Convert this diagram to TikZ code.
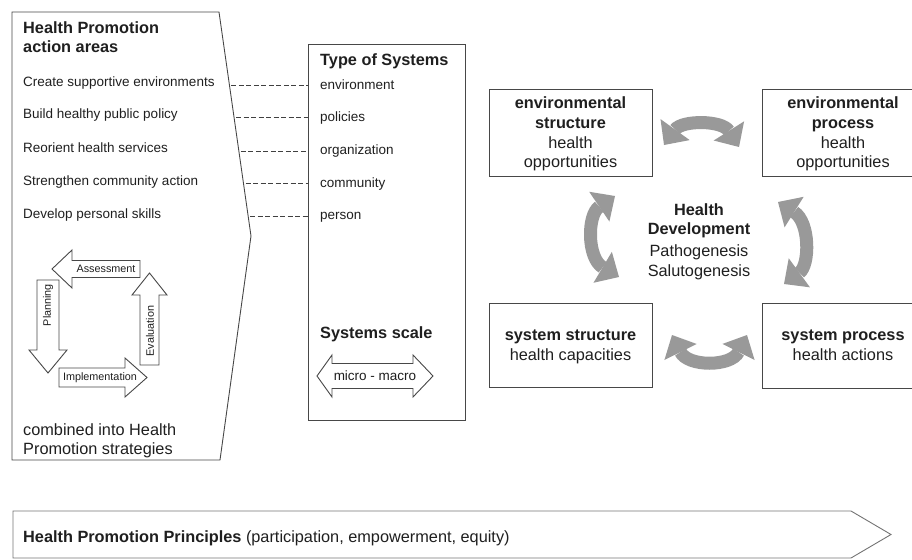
\documentclass[tikz,border=0pt]{standalone}
\usepackage{fontspec}
\setmainfont{Liberation Sans}
\usetikzlibrary{arrows.meta,calc}
\begin{document}
\begin{tikzpicture}[x=1pt,y=-1pt,
  outline/.style={draw=black!72, line width=0.9pt, line join=miter},
  box/.style={outline, inner sep=0pt, outer sep=0pt},
  dashline/.style={draw=black!75, line width=0.8pt, dash pattern=on 5pt off 2.5pt},
  blk/.style={outline, fill=white},
  item/.style={font=\fontsize{13.5}{16}\selectfont, text=black!88, inner sep=0pt},
  head/.style={font=\bfseries\fontsize{16.3}{19.5}\selectfont, text=black!88, inner sep=0pt},
  big/.style={font=\fontsize{16.3}{19.5}\selectfont, text=black!88, inner sep=0pt},
  small/.style={font=\fontsize{10.8}{12}\selectfont, text=black!88, inner sep=0pt},
  grayarrow/.style={draw=black!40, line width=13pt,
    {Triangle[width=36pt,length=19pt,line width=0pt]}-{Triangle[width=36pt,length=19pt,line width=0pt]}},
]
\useasboundingbox (0,0) rectangle (912,559);
\clip (0,0) rectangle (912,559);

% ---------- left panel ----------
\coordinate (tl) at (12,12);
\coordinate (tr) at (219,12);
\coordinate (apex) at (251,236);
\coordinate (br) at (220,460);
\coordinate (bl) at (12,460);
\draw[outline] (tl) -- (tr) -- (apex) -- (br) -- (bl) -- cycle;

\node[head, anchor=base west] (h1) at (23,33.3) {Health Promotion};
\node[head, anchor=base west] (h2) at (23,52.8) {action areas};

\node[item, anchor=base west] (l1) at (23,86.5) {Create supportive environments};
\node[item, anchor=base west] (l2) at (23,119) {Build healthy public policy};
\node[item, anchor=base west] (l3) at (23,152.5) {Reorient health services};
\node[item, anchor=base west] (l4) at (23,185) {Strengthen community action};
\node[item, anchor=base west] (l5) at (23,218.5) {Develop personal skills};

% cycle arrows
\draw[blk] (52,269) -- (72,250) -- (72,260.5) -- (140,260.5) -- (140,277.5) -- (72,277.5) -- (72,288) -- cycle;
\node[small] (assess) at (106,269) {Assessment};
\draw[blk] (37,280) -- (59,280) -- (59,350) -- (67,350) -- (48,373) -- (29,350) -- (37,350) -- cycle;
\node[small, rotate=90] (plan) at (48,305) {Planning};
\draw[blk] (59,368) -- (125,368) -- (125,358) -- (147,377.5) -- (125,397) -- (125,387) -- (59,387) -- cycle;
\node[small] (impl) at (100,377.5) {Implementation};
\draw[blk] (140,365) -- (140,295) -- (132,295) -- (149.5,273) -- (167,295) -- (159,295) -- (159,365) -- cycle;
\node[small, rotate=90] (eval) at (150,331) {Evaluation};

\node[big, anchor=base west] (c1) at (23,435) {combined into Health};
\node[big, anchor=base west] (c2) at (23,454.3) {Promotion strategies};

% ---------- middle box ----------
\node[box, minimum width=157pt, minimum height=376pt] (mbox) at (386.5,232) {};
\node[head, anchor=base west] (tos) at (320,66) {Type of Systems};
\node[item, anchor=mid west] (t1) at (320,86.5) {environment};
\node[item, anchor=mid west] (t2) at (320,119) {policies};
\node[item, anchor=mid west] (t3) at (320,152) {organization};
\node[item, anchor=mid west] (t4) at (320,184.5) {community};
\node[item, anchor=mid west] (t5) at (320,217) {person};
\node[head, anchor=base west] (sscale) at (320,338) {Systems scale};
\draw[blk] (317,376) -- (332,355) -- (332,363.5) -- (413,363.5) -- (413,355) -- (433,376)
  -- (413,397) -- (413,388.5) -- (332,388.5) -- (332,397) -- cycle;
\node[item] (mm) at (375,376) {micro - macro};

% dashed connectors
\coordinate (s1) at ($(tr)!0.326!(apex)$);
\coordinate (s2) at ($(tr)!0.471!(apex)$);
\coordinate (s3) at ($(tr)!0.621!(apex)$);
\coordinate (s4) at ($(tr)!0.766!(apex)$);
\coordinate (s5) at ($(tr)!0.911!(apex)$);
\draw[dashline] ($(s1)+(2,0)$) -- (s1 -| mbox.west);
\draw[dashline] ($(s2)+(2,0)$) -- (s2 -| mbox.west);
\draw[dashline] ($(s3)+(2,0)$) -- (s3 -| mbox.west);
\draw[dashline] ($(s4)+(2,0)$) -- (s4 -| mbox.west);
\draw[dashline] ($(s5)+(2,0)$) -- (s5 -| mbox.west);

% ---------- right boxes ----------
\node[box, minimum width=163pt, minimum height=87pt] (es) at (570.5,132.5) {};
\node[box, minimum width=162pt, minimum height=87pt] (ep) at (843,132.5) {};
\node[box, minimum width=163pt, minimum height=84pt] (ss) at (570.5,345) {};
\node[box, minimum width=162pt, minimum height=85pt] (sp) at (843,345.5) {};

\node[head, anchor=base] (es1) at (570.5,109) {environmental};
\node[head, anchor=base] (es2) at (570.5,128.5) {structure};
\node[big, anchor=base] (es3) at (570.5,148) {health};
\node[big, anchor=base] (es4) at (570.5,167) {opportunities};

\node[head, anchor=base] (ep1) at (843,109) {environmental};
\node[head, anchor=base] (ep2) at (843,128.5) {process};
\node[big, anchor=base] (ep3) at (843,148) {health};
\node[big, anchor=base] (ep4) at (843,167) {opportunities};

\node[head, anchor=base] (ss1) at (570.5,340.7) {system structure};
\node[big, anchor=base] (ss2) at (570.5,360) {health capacities};

\node[head, anchor=base] (sp1) at (843,340.7) {system process};
\node[big, anchor=base] (sp2) at (843,360) {health actions};

\node[head, anchor=base] (hd1) at (699,215) {Health};
\node[head, anchor=base] (hd2) at (699,234) {Development};
\node[big, anchor=base] (hd3) at (699,256) {Pathogenesis};
\node[big, anchor=base] (hd4) at (699,276.5) {Salutogenesis};

% gray curved double arrows
\draw[grayarrow] (664,145) .. controls (682,120) and (722,120) .. (739,147);
\draw[grayarrow] (672,335) .. controls (688,367) and (731,367) .. (747,335);
\draw[grayarrow] (615,196) .. controls (587,215) and (587,258) .. (619,277);
\draw[grayarrow] (778,202) .. controls (810,222) and (810,265) .. (784,284);

% ---------- bottom principles arrow ----------
\draw[outline, draw=black!55] (13,511) -- (851,511) -- (891,534.5) -- (851,558) -- (13,558) -- cycle;
\node[big, anchor=base west] (hpp) at (23,542) {\textbf{Health Promotion Principles} (participation, empowerment, equity)};
\end{tikzpicture}
\end{document}
